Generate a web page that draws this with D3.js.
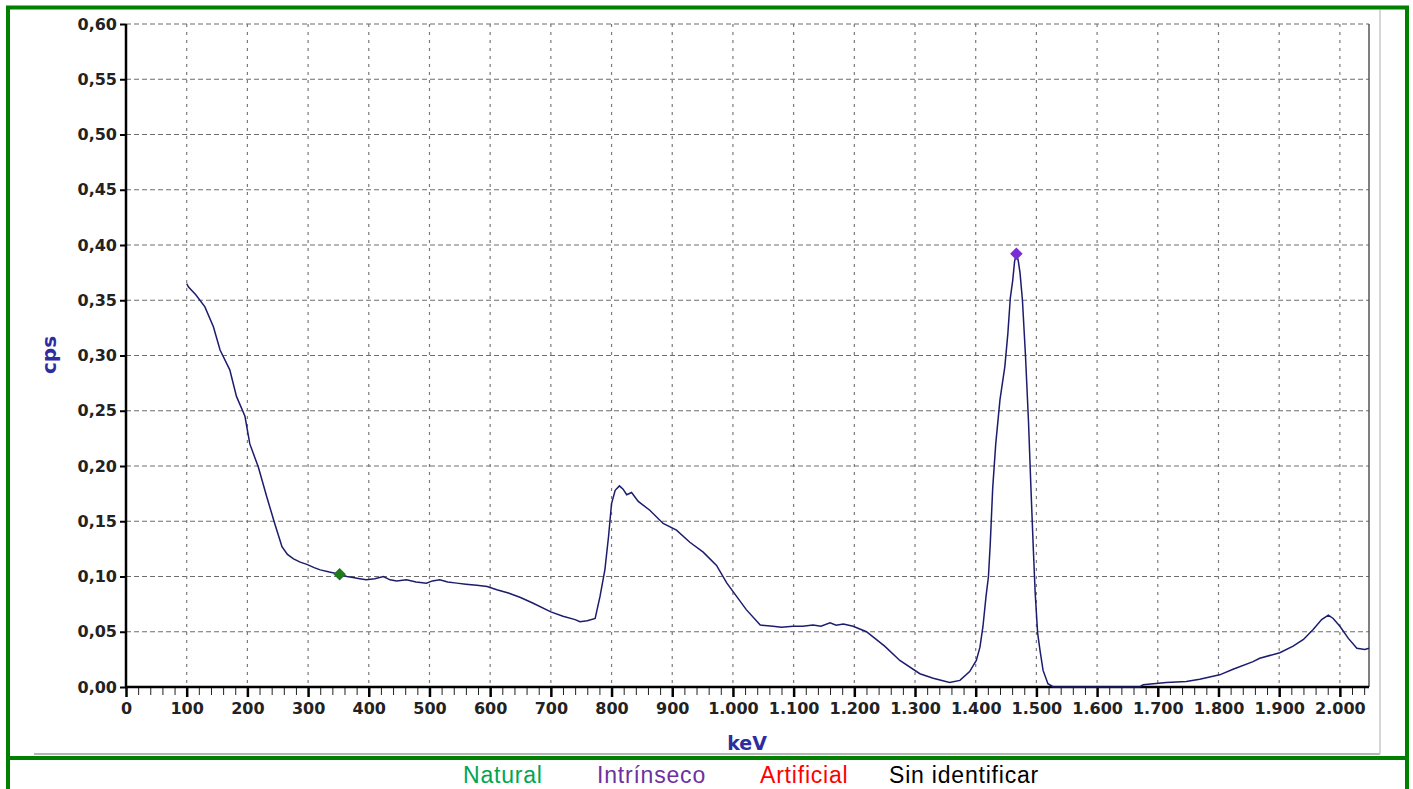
<!DOCTYPE html>
<html lang="es">
<head>
<meta charset="utf-8">
<title>Espectro</title>
<script src="https://cdn.jsdelivr.net/npm/d3@7"></script>
<style>
  body { margin: 0; background: #fff; }
</style>
</head>
<body>
<script>
// datos del espectro (keV, cps)
var energy = [100, 103, 115, 130, 144, 155, 171, 182, 196, 204, 218, 232, 245, 257, 266, 276, 287, 298, 310, 320,
  335, 352, 364, 374, 385, 396, 410, 424, 435, 446, 462, 478, 495, 505, 517, 530, 545, 560, 578, 595,
  611, 630, 650, 670, 700, 720, 740, 748, 760, 773, 781, 789, 795, 800, 806, 813, 819, 825, 833, 844,
  863, 885, 907, 929, 951, 973, 990, 1006, 1022, 1045, 1066, 1080, 1099, 1115, 1132, 1145, 1160, 1170, 1182, 1198,
  1220, 1250, 1275, 1308, 1330, 1357, 1374, 1390, 1401, 1407, 1412, 1417, 1421, 1424, 1428, 1433, 1440, 1448, 1453, 1457,
  1461, 1464, 1467, 1470, 1473, 1477, 1482, 1487, 1491, 1495, 1498, 1502, 1506, 1511, 1519, 1528, 1600, 1670, 1676, 1714,
  1747, 1769, 1802, 1824, 1857, 1868, 1901, 1923, 1940, 1956, 1970, 1981, 1989, 2000, 2014, 2028, 2041, 2048];
var cps = [0.365, 0.362, 0.355, 0.344, 0.326, 0.305, 0.287, 0.263, 0.245, 0.220, 0.199, 0.172, 0.148, 0.127, 0.120, 0.116, 0.113, 0.111, 0.108, 0.106,
  0.104, 0.102, 0.100, 0.099, 0.098, 0.097, 0.098, 0.100, 0.097, 0.096, 0.097, 0.095, 0.094, 0.096, 0.097, 0.095, 0.094, 0.093, 0.092, 0.091,
  0.088, 0.085, 0.081, 0.076, 0.068, 0.064, 0.061, 0.059, 0.060, 0.062, 0.082, 0.106, 0.136, 0.166, 0.178, 0.182, 0.179, 0.174, 0.176, 0.168,
  0.160, 0.148, 0.142, 0.131, 0.122, 0.110, 0.094, 0.082, 0.070, 0.056, 0.055, 0.054, 0.055, 0.055, 0.056, 0.055, 0.058, 0.056, 0.057, 0.055,
  0.050, 0.037, 0.024, 0.012, 0.008, 0.004, 0.006, 0.014, 0.024, 0.036, 0.055, 0.082, 0.100, 0.130, 0.180, 0.220, 0.260, 0.290, 0.320, 0.352,
  0.368, 0.385, 0.392, 0.386, 0.375, 0.350, 0.300, 0.240, 0.180, 0.124, 0.085, 0.049, 0.033, 0.015, 0.003, 0.000, 0.000, 0.000, 0.002, 0.004,
  0.005, 0.007, 0.011, 0.016, 0.023, 0.026, 0.031, 0.037, 0.043, 0.052, 0.061, 0.065, 0.062, 0.055, 0.044, 0.035, 0.034, 0.035];

// picos identificados
var peakEnergy = [352, 1467];
var peakCps = [0.102, 0.392];
var peakColors = ["#1f7a1f", "#7a2fd6"];

var xTicks = [0, 100, 200, 300, 400, 500, 600, 700, 800, 900, 1000, 1100, 1200, 1300, 1400, 1500, 1600, 1700, 1800, 1900, 2000];
var yTicks = [0, 0.05, 0.10, 0.15, 0.20, 0.25, 0.30, 0.35, 0.40, 0.45, 0.50, 0.55, 0.60];

var legendLabels = ["Natural", "Intrínseco", "Artificial", "Sin identificar"];
var legendColors = ["#00a651", "#7030a0", "#ff0000", "#000000"];

var W = 1413, H = 789;
var pLeft = 126, pRight = 1369, pTop = 24, pBottom = 687;
var tickFont = "'DejaVu Sans', Verdana, sans-serif";
var legendFont = "Arial, 'Liberation Sans', sans-serif";

var svg = d3.select("body").append("svg")
    .attr("width", W)
    .attr("height", H);

// formato español
var es = d3.formatLocale({decimal: ",", thousands: ".", grouping: [3], currency: ["", ""]});
var fmtX = es.format(",d");
var fmtY = es.format(".2f");

var x = d3.scaleLinear().domain([0, 2048]).range([pLeft, pRight]);
var y = d3.scaleLinear().domain([0, 0.6]).range([pBottom, pTop]);

// marco del panel
svg.append("line").attr("x1", 34).attr("x2", 1380).attr("y1", 754).attr("y2", 754)
    .attr("stroke", "#b5b5b5").attr("stroke-width", 2);
svg.append("line").attr("x1", 1380).attr("x2", 1380).attr("y1", 10).attr("y2", 754)
    .attr("stroke", "#c8c8c8").attr("stroke-width", 1.5);

// rejilla
svg.append("g").selectAll("line")
    .data(yTicks.slice(1))
    .enter().append("line")
    .attr("x1", pLeft).attr("x2", pRight)
    .attr("y1", function (d) { return y(d); })
    .attr("y2", function (d) { return y(d); })
    .attr("stroke", "#6e6e6e")
    .attr("stroke-width", 1.2)
    .attr("stroke-dasharray", "5,3");
svg.append("g").selectAll("line")
    .data(xTicks.slice(1))
    .enter().append("line")
    .attr("x1", function (d) { return x(d); })
    .attr("x2", function (d) { return x(d); })
    .attr("y1", pTop).attr("y2", pBottom)
    .attr("stroke", "#7a7a7a")
    .attr("stroke-width", 1.2)
    .attr("stroke-dasharray", "3,5");

// borde derecho
svg.append("line").attr("x1", pRight).attr("x2", pRight).attr("y1", pTop).attr("y2", pBottom)
    .attr("stroke", "#555").attr("stroke-width", 1.5);

// ticks menores eje X
var minor = d3.range(0, 2049, 20).filter(function (d) { return d % 100 !== 0; });
svg.append("g")
    .attr("transform", "translate(0," + pBottom + ")")
    .call(d3.axisBottom(x).tickValues(minor).tickSize(8).tickFormat(""))
    .call(function (g) { g.select(".domain").remove(); })
    .selectAll("line").attr("stroke", "#222").attr("stroke-width", 1);

var xAxis = svg.append("g")
    .attr("transform", "translate(0," + pBottom + ")")
    .call(d3.axisBottom(x).tickValues(xTicks).tickSize(10).tickPadding(6).tickFormat(fmtX));
xAxis.select(".domain").attr("stroke", "#000").attr("stroke-width", 2.5)
    .attr("d", "M" + pLeft + ",0H" + pRight);
xAxis.selectAll("line").attr("stroke", "#000").attr("stroke-width", 2.5);
xAxis.selectAll("text")
    .style("font-family", tickFont).style("font-size", "16px").style("font-weight", "bold")
    .attr("fill", "#222");

var yAxis = svg.append("g")
    .attr("transform", "translate(" + pLeft + ",0)")
    .call(d3.axisLeft(y).tickValues(yTicks).tickSize(6).tickPadding(3).tickFormat(fmtY));
yAxis.select(".domain").attr("stroke", "#000").attr("stroke-width", 2.5)
    .attr("d", "M0," + pTop + "V" + pBottom);
yAxis.selectAll("line").attr("stroke", "#000").attr("stroke-width", 2);
yAxis.selectAll("text")
    .style("font-family", tickFont).style("font-size", "16px").style("font-weight", "bold")
    .attr("fill", "#222");

// espectro
var pts = energy.map(function (e, i) { return [e, cps[i]]; });
svg.append("path")
    .datum(pts)
    .attr("fill", "none")
    .attr("stroke", "#1c1c6e")
    .attr("stroke-width", 1.5)
    .attr("d", d3.line()
        .x(function (d) { return x(d[0]); })
        .y(function (d) { return y(d[1]); }));

// marcadores de picos
svg.append("g").selectAll("path")
    .data(peakEnergy)
    .enter().append("path")
    .attr("d", d3.symbol().type(d3.symbolSquare).size(78))
    .attr("transform", function (d, i) {
        return "translate(" + x(d) + "," + y(peakCps[i]) + ") rotate(45)";
    })
    .attr("fill", function (d, i) { return peakColors[i]; });

// títulos de ejes
svg.append("text")
    .attr("transform", "translate(56,355) rotate(-90)")
    .attr("text-anchor", "middle")
    .style("font-family", tickFont).style("font-size", "20px").style("font-weight", "bold")
    .attr("fill", "#2d2d9f")
    .text("cps");
svg.append("text")
    .attr("x", 747).attr("y", 750)
    .attr("text-anchor", "middle")
    .style("font-family", tickFont).style("font-size", "19px").style("font-weight", "bold")
    .attr("fill", "#2d2d9f")
    .text("keV");

// marco verde
svg.append("rect")
    .attr("x", 8).attr("y", 7.5)
    .attr("width", 1399).attr("height", 800)
    .attr("fill", "none").attr("stroke", "#008000").attr("stroke-width", 4);
svg.append("line").attr("x1", 8).attr("x2", 1407).attr("y1", 758).attr("y2", 758)
    .attr("stroke", "#008000").attr("stroke-width", 4);

// leyenda
var legendX = [463, 597, 760, 889];
svg.append("g").selectAll("text")
    .data(legendLabels)
    .enter().append("text")
    .attr("x", function (d, i) { return legendX[i]; })
    .attr("y", 783)
    .style("font-family", legendFont).style("font-size", "23px")
    .style("letter-spacing", "0.8px")
    .attr("fill", function (d, i) { return legendColors[i]; })
    .text(function (d) { return d; });
</script>
</body>
</html>
